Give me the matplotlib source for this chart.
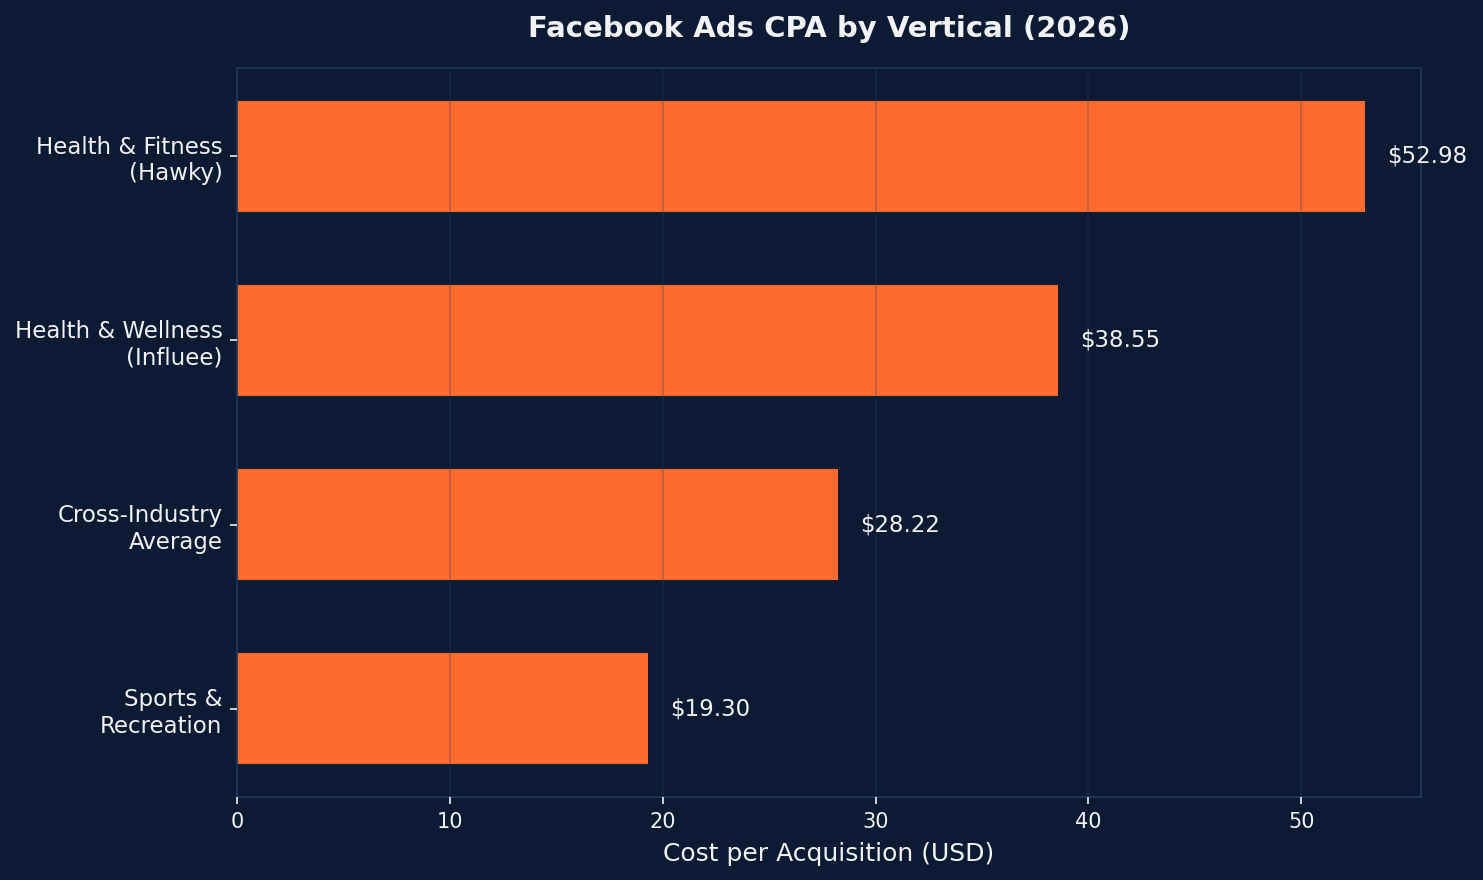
import matplotlib
matplotlib.use("Agg")
import matplotlib.pyplot as plt

categories = ["Health & Fitness\n(Hawky)", "Health & Wellness\n(Influee)",
              "Cross-Industry\nAverage", "Sports &\nRecreation"]
cpa = [52.98, 38.55, 28.22, 19.30]

bg = "#0c1b33"
bar_color = "#ff6b2e"
spine_color = "#1e3a5f"
text_color = "#f0f2f5"

fig, ax = plt.subplots(figsize=(9.887, 5.867), dpi=150)
fig.patch.set_facecolor(bg)
ax.set_facecolor(bg)
fig.subplots_adjust(left=0.1598, right=0.9582, top=0.9227, bottom=0.0943)

# reverse so first category sits on top
ypos = list(range(len(categories)))[::-1]
ax.barh(ypos, cpa, height=0.6, color=bar_color, zorder=2)
ax.set_yticks(ypos)
ax.set_yticklabels(categories)
ax.set_xlim(0, max(cpa) * 1.05)

for y, v in zip(ypos, cpa):
    ax.text(v + max(cpa) * 0.02, y, f"${v:.2f}", va="center", ha="left",
            color=text_color, fontsize=11)

ax.grid(axis="x", color="#283a5c", alpha=0.27, linewidth=1, zorder=3)
ax.set_axisbelow(False)

for s in ax.spines.values():
    s.set_color(spine_color)
ax.tick_params(colors=text_color, labelsize=11)
ax.tick_params(axis="x", labelsize=10)

ax.set_title("Facebook Ads CPA by Vertical (2026)", color=text_color,
             fontsize=14, fontweight="bold", pad=15)
ax.set_xlabel("Cost per Acquisition (USD)", color=text_color, fontsize=12,
              labelpad=5)

fig.savefig("out.png", dpi=150, facecolor=bg)
